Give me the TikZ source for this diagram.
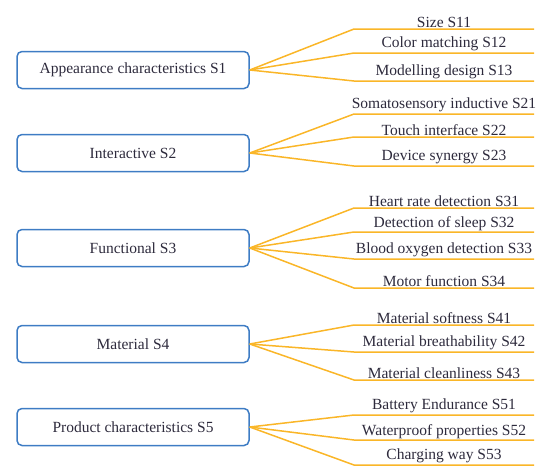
\documentclass[tikz,border=0pt]{standalone}
\usepackage{fontspec}
\setmainfont{Liberation Serif}
\definecolor{boxblue}{RGB}{62,124,196}
\definecolor{branchorange}{RGB}{250,182,40}
\definecolor{textgray}{RGB}{45,42,60}
\tikzset{
  factor/.style={draw=boxblue,line width=1.5pt,rounded corners=5pt,minimum width=232pt,minimum height=37pt,inner sep=0pt,text=textgray,font=\fontsize{15.5}{17}\selectfont},
  leaf/.style={anchor=south,inner sep=1.5pt,text=textgray,font=\fontsize{15.5}{17}\selectfont},
  branch/.style={draw=branchorange,line width=1.5pt}
}
\begin{document}
\begin{tikzpicture}[x=1pt,y=-1pt]
	\useasboundingbox (0,0) rectangle (538,467);
	% first level
	\node[factor] (s1) at (133,70)  {Appearance characteristics S1};
	\node[factor] (s2) at (133,153) {Interactive S2};
	\node[factor] (s3) at (133,248) {Functional S3};
	\node[factor] (s4) at (133,344) {Material S4};
	\node[factor] (s5) at (133,427) {Product characteristics S5};
	% second level
	\foreach \p/\y/\n/\t in {
		s1/29/11/Size S11, s1/53/12/Color matching S12, s1/81/13/Modelling design S13,
		s2/114/21/Somatosensory inductive S21, s2/137/22/Touch interface S22, s2/166/23/Device synergy S23,
		s3/208/31/Heart rate detection S31, s3/232/32/Detection of sleep S32, s3/259/33/Blood oxygen detection S33, s3/288/34/Motor function S34,
		s4/325/41/Material softness S41, s4/352/42/Material breathability S42, s4/380/43/Material cleanliness S43,
		s5/415/51/Battery Endurance S51, s5/440/52/Waterproof properties S52, s5/465/53/Charging way S53}{
		\coordinate (k\n) at (354,\y);
		\coordinate (e\n) at (534,\y);
		\node[leaf] (l\n) at (444,\y) {\t};
		\draw[branch] (\p.east) -- (k\n) -- (e\n);
	}
\end{tikzpicture}
\end{document}
